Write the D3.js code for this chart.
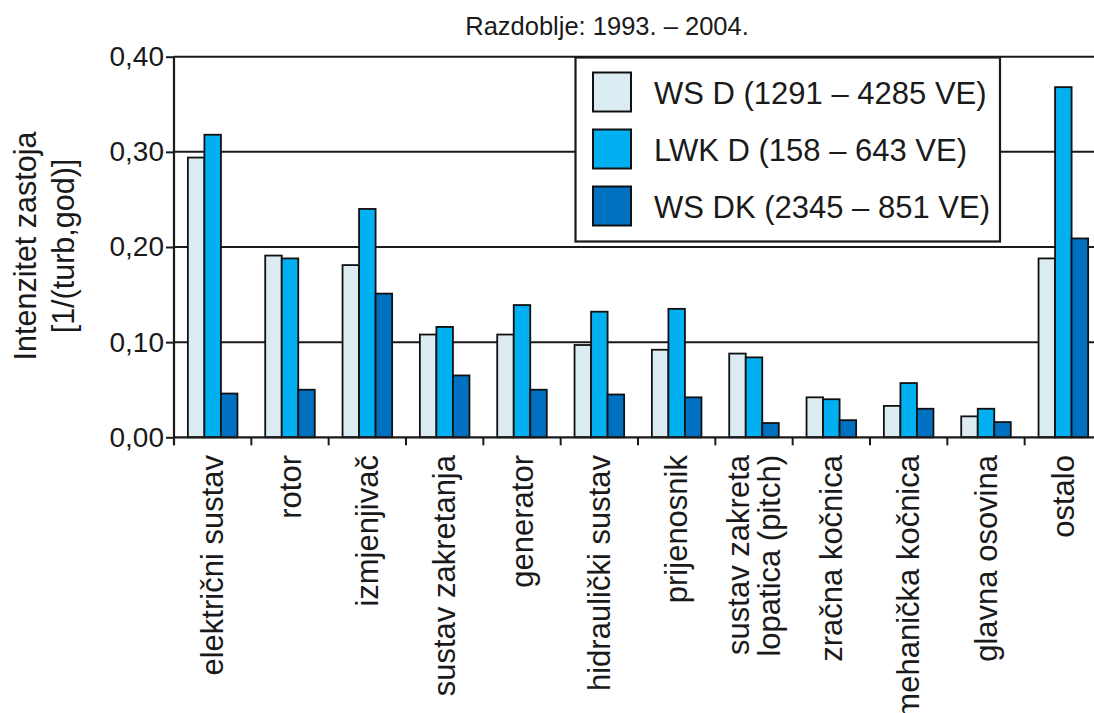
<!DOCTYPE html>
<html>
<head>
<meta charset="utf-8">
<script src="https://cdn.jsdelivr.net/npm/d3@7"></script>
<style>
  html, body { margin: 0; padding: 0; background: #fff; }
  svg { display: block; }
  text { font-family: "Liberation Sans", Arial, sans-serif; fill: #1a1a1a; }
</style>
</head>
<body>
<svg id="chart" width="1094" height="713"></svg>
<script>
const title = "Razdoblje: 1993. – 2004.";
const yTitleLines = ["Intenzitet zastoja", "[1/(turb,god)]"];
const categories = [
  "električni sustav", "rotor", "izmjenjivač", "sustav zakretanja", "generator",
  "hidraulički sustav", "prijenosnik", "sustav zakreta lopatica (pitch)",
  "zračna kočnica", "mehanička kočnica", "glavna osovina", "ostalo"
];
const categoryLabelLines = [
  ["električni sustav"], ["rotor"], ["izmjenjivač"], ["sustav zakretanja"], ["generator"],
  ["hidraulički sustav"], ["prijenosnik"], ["sustav zakreta", "lopatica (pitch)"],
  ["zračna kočnica"], ["mehanička kočnica"], ["glavna osovina"], ["ostalo"]
];
const seriesNames = ["WS D (1291 – 4285 VE)", "LWK D (158 – 643 VE)", "WS DK (2345 – 851 VE)"];
const seriesColors = ["#dbedf3", "#00b0f0", "#0070c0"];
const wsD  = [0.294, 0.191, 0.181, 0.108, 0.108, 0.097, 0.092, 0.088, 0.042, 0.033, 0.022, 0.188];
const lwkD = [0.318, 0.188, 0.240, 0.116, 0.139, 0.132, 0.135, 0.084, 0.040, 0.057, 0.030, 0.368];
const wsDK = [0.046, 0.050, 0.151, 0.065, 0.050, 0.045, 0.042, 0.015, 0.018, 0.030, 0.016, 0.209];
const yTicks = [0, 0.1, 0.2, 0.3, 0.4];
const yTickLabels = ["0,00", "0,10", "0,20", "0,30", "0,40"];

const series = [wsD, lwkD, wsDK];
const svg = d3.select("#chart");
const W = 1094, H = 713;
const axisX = 174, plotRight = 1102, yTop = 56.7, yBottom = 437.3;
const ink = "#1a1a1a";

const y = d3.scaleLinear().domain([0, 0.4]).range([yBottom, yTop]);
const x0 = d3.scaleBand().domain(categories).range([axisX, plotRight]).padding(0);
const x1 = d3.scaleBand().domain(d3.range(series.length)).range([0, x0.bandwidth()]).paddingInner(0).paddingOuter(0.84);

svg.append("rect").attr("width", W).attr("height", H).attr("fill", "#fff");

// gridlines
svg.append("g").selectAll("line").data(yTicks.filter(d => d > 0)).join("line")
  .attr("x1", axisX).attr("x2", W)
  .attr("y1", d => y(d)).attr("y2", d => y(d))
  .attr("stroke", ink).attr("stroke-width", 2);

// bars
const groups = svg.append("g").selectAll("g").data(categories).join("g")
  .attr("transform", d => `translate(${x0(d)},0)`);
groups.selectAll("rect").data((d, i) => series.map((s, k) => ({ k, v: s[i] }))).join("rect")
  .attr("x", d => x1(d.k))
  .attr("y", d => y(d.v))
  .attr("width", x1.bandwidth())
  .attr("height", d => y(0) - y(d.v))
  .attr("fill", d => seriesColors[d.k])
  .attr("stroke", "#111").attr("stroke-width", 1.8);

// y axis
const yAxis = d3.axisLeft(y).tickValues(yTicks).tickFormat((d, i) => yTickLabels[i]).tickSize(8).tickPadding(2);
const gy = svg.append("g").attr("transform", `translate(${axisX},0)`).call(yAxis);
gy.select(".domain").attr("stroke", ink).attr("stroke-width", 2.2).attr("d", `M0,${yTop}V${yBottom + 8}`);
gy.selectAll(".tick line").attr("stroke", ink).attr("stroke-width", 2);
gy.selectAll(".tick text").attr("font-size", 28).attr("font-family", '"Liberation Sans", Arial, sans-serif').attr("fill", ink);

// x axis (ticks at category boundaries)
const gx = svg.append("g");
gx.append("line").attr("x1", axisX).attr("x2", W).attr("y1", yBottom).attr("y2", yBottom)
  .attr("stroke", ink).attr("stroke-width", 2.2);
gx.selectAll("line.tk").data(categories).join("line").attr("class", "tk")
  .attr("x1", d => x0(d)).attr("x2", d => x0(d))
  .attr("y1", yBottom).attr("y2", yBottom + 8)
  .attr("stroke", ink).attr("stroke-width", 2);

// x labels
const labelTop = 455;
const lineGap = 31;
categories.forEach((c, i) => {
  const lines = categoryLabelLines[i];
  const cx = x0(c) + x0.bandwidth() / 2;
  lines.forEach((ln, j) => {
    const off = (j - (lines.length - 1) / 2) * lineGap;
    svg.append("text")
      .attr("transform", `translate(${cx + off},${labelTop}) rotate(-90)`)
      .attr("text-anchor", "end")
      .attr("dominant-baseline", "central")
      .attr("font-size", 31)
      .text(ln);
  });
});

// title
svg.append("text").attr("x", 607).attr("y", 35).attr("text-anchor", "middle")
  .attr("font-size", 25.5).text(title);

// y title
yTitleLines.forEach((ln, j) => {
  svg.append("text")
    .attr("transform", `translate(${25 + j * 38},246) rotate(-90)`)
    .attr("text-anchor", "middle")
    .attr("dominant-baseline", "central")
    .attr("font-size", 30.5)
    .text(ln);
});

// legend
const lg = svg.append("g");
lg.append("rect").attr("x", 575.5).attr("y", 57.5).attr("width", 424.5).attr("height", 184)
  .attr("fill", "#fff").attr("stroke", ink).attr("stroke-width", 2.2);
const items = lg.selectAll("g.item").data(seriesNames).join("g").attr("class", "item")
  .attr("transform", (d, i) => `translate(593,${72.5 + i * 57})`);
items.append("rect").attr("width", 38).attr("height", 39)
  .attr("fill", (d, i) => seriesColors[i]).attr("stroke", "#111").attr("stroke-width", 2);
items.append("text").attr("x", 61).attr("y", 20.5).attr("dominant-baseline", "central")
  .attr("font-size", 31).text(d => d);
</script>
</body>
</html>
